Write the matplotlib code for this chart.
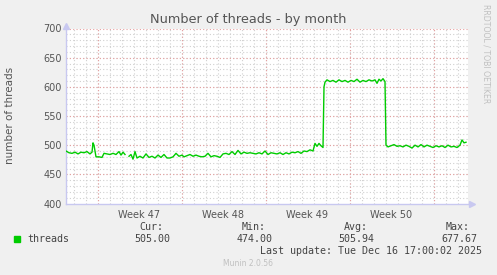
import numpy as np
import matplotlib.pyplot as plt

# hours since the left edge of the graph, and number of threads
hours = [0, 6, 12, 18, 24, 30, 36, 42, 48, 52, 54, 56, 58, 60, 66, 72, 76, 82, 88, 94,
         100, 106, 110, 114, 118, 122, 126, 130, 134, 138, 142, 148, 154, 160, 166, 172,
         178, 184, 190, 196, 202, 208, 214, 220, 226, 232, 236, 242, 248, 254, 260, 266,
         272, 278, 284, 290, 296, 302, 308, 314, 320, 326, 332, 338, 344, 350, 356, 362,
         368, 374, 380, 386, 392, 398, 404, 410, 416, 422, 428, 434, 440, 446, 452, 458,
         464, 470, 476, 482, 488, 494, 498, 502, 506, 510, 514, 516, 518, 522, 528, 534,
         540, 546, 552, 558, 564, 570, 576, 582, 588, 594, 600, 606, 612, 618, 622, 626,
         630, 634, 638, 640, 644, 650, 656, 662, 668, 674, 680, 686, 692, 698, 704, 710,
         716, 722, 728, 734, 740, 746, 752, 758, 764, 770, 776, 782, 788, 792, 796, 800]
threads = [490, 487, 486, 488, 485, 488, 487, 489, 485, 488, 504, 500, 490, 480, 480, 479, 486, 485, 484, 486,
           484, 489, 483, 488, 484, np.nan, 481, 484, 476, 489, 478, 481, 478, 485, 479, 481,
           478, 483, 479, 484, 478, 478, 480, 486, 481, 483, 480, 482, 484, 481, 483, 481,
           480, 481, 486, 480, 482, 481, 479, 485, 486, 484, 489, 484, 491, 485, 488, 486,
           487, 486, 485, 487, 485, 490, 484, 487, 486, 485, 487, 484, 487, 485, 488, 487,
           489, 486, 490, 489, 492, 490, 503, 498, 503, 499, 496, 600, 608, 612, 609, 611,
           608, 612, 609, 611, 608, 611, 609, 613, 608, 611, 609, 612, 610, 612, 606, 613,
           610, 614, 609, 500, 497, 499, 501, 498, 499, 497, 500, 498, 495, 500, 497, 501,
           497, 500, 498, 496, 499, 497, 499, 496, 500, 497, 498, 496, 500, 509, 504, 505]

week_labels = ["Week 47", "Week 48", "Week 49", "Week 50"]
stat_names = ["Cur:", "Min:", "Avg:", "Max:"]
stat_values = ["505.00", "474.00", "505.94", "677.67"]

W, H = 497, 275
fig = plt.figure(figsize=(W / 100, H / 100), dpi=100, facecolor="#f0f0f0")
ax = fig.add_axes([66 / W, 1 - 203.5 / H, 402 / W, 175 / H])
ax.set_facecolor("white")

# grid: days / weeks on x, 10 / 50 on y
week0 = 63
for h in np.arange(week0 - 48, 805, 24):
    ax.axvline(h, color="#d0d0d0", lw=0.8, ls=(0, (1, 2)), zorder=1)
for h in np.arange(week0, 805, 168):
    ax.axvline(h, color="#e6a0a0", lw=0.8, ls=(0, (1, 2)), zorder=1)
for v in range(410, 700, 10):
    ax.axhline(v, color="#d0d0d0", lw=0.8, ls=(0, (1, 2)), zorder=1)
for v in range(450, 701, 50):
    ax.axhline(v, color="#e6a0a0", lw=0.8, ls=(0, (1, 2)), zorder=1)

ax.plot(hours, threads, color="#00cc00", lw=1.0, zorder=3)

ax.set_xlim(0, 804)
ax.set_ylim(400, 700)
ax.set_yticks(range(400, 701, 50))
ax.set_xticks([week0 + 84 + 168 * i for i in range(len(week_labels))])
ax.set_xticklabels(week_labels)
ax.tick_params(axis="both", length=0, labelsize=7, labelcolor="#555555", pad=3)
ax.tick_params(axis="x", pad=5)

for s in ["top", "right"]:
    ax.spines[s].set_visible(False)
for s in ["left", "bottom"]:
    ax.spines[s].set_color("#c8c8f0")
    ax.spines[s].set_linewidth(1.0)
ax.plot([0], [704], marker="^", color="#c8c8f0", ms=4, clip_on=False)
ax.plot([812], [400], marker=">", color="#c8c8f0", ms=4, clip_on=False)

def put(x, y, s, **kw):
    fig.text(x / W, 1 - y / H, s, **kw)

put(248, 19, "Number of threads - by month", ha="center", va="center",
    fontsize=9.3, color="#555555")
put(10, 115, "number of threads", ha="center", va="center", rotation=90,
    fontsize=7.5, color="#555555")
put(486, 54, "RRDTOOL / TOBI OETIKER", ha="center", va="center", rotation=270,
    fontsize=5.6, color="#c0c0c0")

mono = "DejaVu Sans Mono"
fig.patches.append(plt.Rectangle((14 / W, 1 - 242 / H), 6 / W, 6 / H,
                                 transform=fig.transFigure, color="#00cc00"))
put(27, 239.5, "threads", ha="left", va="center", fontsize=7.2,
    family=mono, color="#444444")
for i, (name, val) in enumerate(zip(stat_names, stat_values)):
    right = 170 + 102.3 * i
    put(right - 7, 227, name, ha="right", va="center", fontsize=7.2,
        family=mono, color="#444444")
    put(right, 239.5, val, ha="right", va="center", fontsize=7.2,
        family=mono, color="#444444")
put(482, 251.5, "Last update: Tue Dec 16 17:00:02 2025", ha="right", va="center",
    fontsize=7.2, family=mono, color="#444444")
put(248, 264, "Munin 2.0.56", ha="center", va="center", fontsize=5.5,
    color="#c0c0c0")

fig.savefig("out.png", dpi=100, facecolor=fig.get_facecolor())
